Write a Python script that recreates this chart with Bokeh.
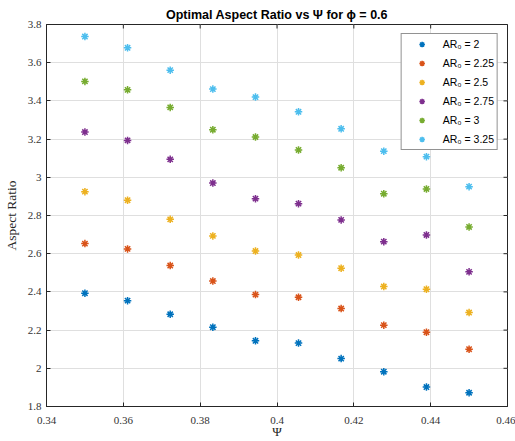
import math
from bokeh.plotting import figure
from bokeh.models import Range1d, FixedTicker, Legend, LegendItem
from bokeh.embed import file_html
from bokeh.resources import INLINE

psi = [0.35, 0.3611, 0.3722, 0.3833, 0.3944, 0.4056, 0.4167, 0.4278, 0.4389, 0.45]
ar_2 = [2.393, 2.354, 2.283, 2.215, 2.144, 2.132, 2.051, 1.982, 1.902, 1.872]
ar_225 = [2.653, 2.625, 2.538, 2.457, 2.386, 2.372, 2.313, 2.226, 2.189, 2.100]
ar_25 = [2.925, 2.880, 2.780, 2.693, 2.614, 2.593, 2.524, 2.428, 2.414, 2.292]
ar_275 = [3.237, 3.193, 3.094, 2.970, 2.888, 2.862, 2.777, 2.663, 2.698, 2.505]
ar_3 = [3.502, 3.458, 3.366, 3.249, 3.211, 3.143, 3.050, 2.914, 2.939, 2.740]
ar_325 = [3.737, 3.678, 3.561, 3.462, 3.420, 3.343, 3.254, 3.137, 3.108, 2.951]

series = [ar_2, ar_225, ar_25, ar_275, ar_3, ar_325]
labels = ["AR\u2080 = 2", "AR\u2080 = 2.25", "AR\u2080 = 2.5", "AR\u2080 = 2.75", "AR\u2080 = 3", "AR\u2080 = 3.25"]
colors = ["#0072BD", "#D95319", "#EDB120", "#7E2F8E", "#77AC30", "#4DBEEE"]

x_ticks = [0.34, 0.36, 0.38, 0.40, 0.42, 0.44, 0.46]
x_tick_labels = ["0.34", "0.36", "0.38", "0.4", "0.42", "0.44", "0.46"]
y_ticks = [1.8, 2.0, 2.2, 2.4, 2.6, 2.8, 3.0, 3.2, 3.4, 3.6, 3.8]
y_tick_labels = ["1.8", "2", "2.2", "2.4", "2.6", "2.8", "3", "3.2", "3.4", "3.6", "3.8"]
x_min, x_max = 0.34, 0.46
y_min, y_max = 1.8, 3.8

AX = "#262626"
SERIF = "Liberation Serif"

p = figure(width=515, height=441, output_backend="svg", toolbar_location=None,
           x_range=Range1d(x_min, x_max), y_range=Range1d(y_min, y_max),
           min_border_left=46, min_border_right=8, min_border_top=24, min_border_bottom=34,
           title="Optimal Aspect Ratio vs \u03a8 for \u03d5 = 0.6")
p.background_fill_color = "white"
p.border_fill_color = "white"
p.outline_line_color = AX
p.outline_line_width = 1

p.title.align = "center"
p.title.text_font = "Liberation Sans"
p.title.text_font_size = "12.5px"
p.title.text_font_style = "bold"
p.title.text_color = "black"
p.title.standoff = 6

def style_axis(ax, ticks, labs):
    ax.ticker = FixedTicker(ticks=ticks)
    ax.major_label_overrides = dict(zip(ticks, labs))
    ax.major_tick_in = 4
    ax.major_tick_out = 0
    ax.minor_tick_line_color = None
    ax.major_tick_line_color = AX
    ax.axis_line_color = AX
    ax.major_label_text_font = SERIF
    ax.major_label_text_color = "#333333"
    ax.major_label_text_font_size = "11px"

xa = p.xaxis[0]
style_axis(xa, x_ticks, x_tick_labels)
xa.major_label_standoff = 10
xa.axis_label = "\u03a8"
xa.axis_label_text_font = SERIF
xa.axis_label_text_font_style = "normal"
xa.axis_label_text_font_size = "13px"
xa.axis_label_text_color = AX
xa.axis_label_standoff = -3

ya = p.yaxis[0]
style_axis(ya, y_ticks, y_tick_labels)
ya.major_label_standoff = 5
ya.axis_label = "Aspect Ratio"
ya.axis_label_text_font = SERIF
ya.axis_label_text_font_style = "normal"
ya.axis_label_text_font_size = "13.5px"
ya.axis_label_text_color = AX
ya.axis_label_standoff = 6

# inward ticks on top and right edges (half of each dash is clipped by the frame)
p.scatter(x_ticks, [y_max] * len(x_ticks), marker="dash", size=8, angle=math.pi / 2,
          line_color=AX, line_width=1)
p.scatter([x_max] * len(y_ticks), y_ticks, marker="dash", size=8,
          line_color=AX, line_width=1)

p.xgrid.ticker = FixedTicker(ticks=x_ticks)
p.ygrid.ticker = FixedTicker(ticks=y_ticks)
p.grid.grid_line_color = "#dfdfdf"
p.grid.grid_line_width = 1

items = []
for ys, lab, c in zip(series, labels, colors):
    r = p.scatter(psi, ys, marker="asterisk", size=7.5, line_color=c, line_width=1.5)
    items.append(LegendItem(label=lab, renderers=[r]))

legend = Legend(items=items, location="top_right", margin=9, padding=3,
                glyph_width=34, glyph_height=14, label_height=14, spacing=5,
                label_standoff=4, label_text_font="Liberation Sans",
                label_text_font_size="10.5px", label_text_color="black",
                border_line_color=AX, border_line_width=1,
                background_fill_color="white", background_fill_alpha=1)
p.add_layout(legend, "center")

open("out.html", "w").write(file_html(p, INLINE))
